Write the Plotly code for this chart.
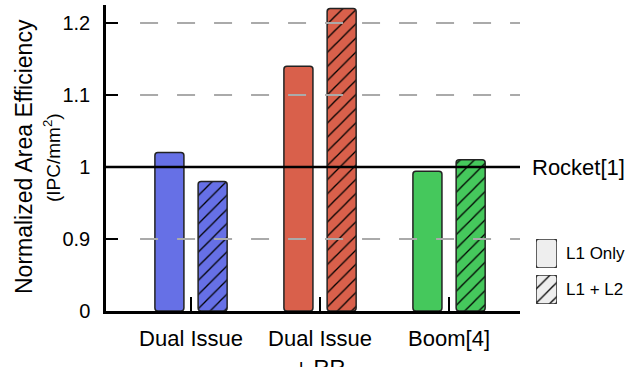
import plotly.graph_objects as go

# ---- data ----
categories = ["Dual Issue", "Dual Issue<br>+ RR", "Boom[4]"]
l1_only = [1.02, 1.14, 0.994]
l1_l2 = [0.98, 1.22, 1.01]
series_names = ["L1 Only", "L1 + L2"]
colors = ["#6670E6", "#D9604B", "#45C85C"]
legend_fill = "#EEEEEE"
tick_vals = [0.8, 0.9, 1.0, 1.1, 1.2]
tick_text = ["0", "0.9", "1", "1.1", "1.2"]
grid_vals = [0.9, 1.1, 1.2]
baseline_value = 1.0
baseline_label = "Rocket[1]"
y_title = "Normalized Area Efficiency"
y_subtitle = "(IPC/mm<sup>2</sup>)"
BREAK = 0.8  # axis break: value 0 drawn at 0.8

FONT = "Liberation Sans, Arial, sans-serif"
xpos = list(range(len(categories)))

fig = go.Figure()


def hatch(shape, bg):
    return dict(shape=shape, fgcolor="#000000", bgcolor=bg, fgopacity=1,
                size=10, solidity=0.13)


for vals, name, pat, off in [(l1_only, series_names[0], "", -0.28),
                             (l1_l2, series_names[1], "/", 0.055)]:
    for xi, v, c in zip(xpos, vals, colors):
        fig.add_trace(go.Bar(
            x=[xi], y=[v - BREAK], base=[BREAK],
            name=name, width=0.225, offset=off,
            marker=dict(color=c, line=dict(color="#222222", width=1.5),
                        pattern=hatch(pat, c)),
            showlegend=False, hoverinfo="skip"))

# legend proxies
for i, (name, pat) in enumerate(zip(series_names, ["", "/"])):
    fig.add_trace(go.Bar(
        x=[0], y=[1], base=[0], width=1, xaxis="x2", yaxis="y%d" % (i + 2),
        marker=dict(color=legend_fill, line=dict(color="#333333", width=1.5),
                    pattern=hatch(pat, legend_fill)),
        showlegend=False, hoverinfo="skip", cliponaxis=False))

W, H = 638, 367
L, B, T = 106, 56, 5
plot_w = W - L
xdom = 414 / plot_w

shapes = []
for g in grid_vals:
    shapes.append(dict(type="line", xref="x", yref="y", x0=-0.395, x1=2.55, y0=g, y1=g,
                       line=dict(color="#AAAAAA", width=2, dash="18px,19px"), layer="above"))
shapes.append(dict(type="line", xref="x", yref="y", x0=-0.659, x1=2.55,
                   y0=baseline_value, y1=baseline_value,
                   line=dict(color="#000000", width=2.5), layer="above"))

annotations = [
    dict(x=(530 - L) / plot_w, y=baseline_value, xref="paper", yref="y", text=baseline_label,
         showarrow=False, xanchor="left", yanchor="middle", font=dict(size=22, color="#000")),
    dict(x=(24 - L) / plot_w, y=(311 - 157) / 306, xref="paper", yref="paper",
         text=y_title, textangle=-90, showarrow=False, xanchor="center", yanchor="middle",
         font=dict(size=23, color="#000")),
    dict(x=(52 - L) / plot_w, y=(311 - 158) / 306, xref="paper", yref="paper",
         text=y_subtitle, textangle=-90, showarrow=False, xanchor="center", yanchor="middle",
         font=dict(size=19, color="#000")),
    dict(x=(564 - L) / plot_w, y=(311 - 253.5) / 306, xref="paper", yref="paper",
         text=series_names[0], showarrow=False, xanchor="left", yanchor="middle",
         font=dict(size=17, color="#000")),
    dict(x=(564 - L) / plot_w, y=(311 - 289.5) / 306, xref="paper", yref="paper",
         text=series_names[1], showarrow=False, xanchor="left", yanchor="middle",
         font=dict(size=17, color="#000")),
]

fig.update_layout(
    width=W, height=H,
    margin=dict(l=L, r=0, t=T, b=B, autoexpand=False),
    paper_bgcolor="white", plot_bgcolor="white",
    font=dict(family=FONT, color="#000000"),
    barcornerradius=3, barmode="overlay",
    xaxis=dict(domain=[0, xdom], range=[-0.659, 2.55], tickvals=xpos, ticktext=categories,
               ticks="inside", ticklen=14, tickwidth=1.5, tickcolor="#000",
               showline=True, linewidth=2.5, linecolor="#000", showgrid=False,
               zeroline=False, tickfont=dict(size=22), ticklabelstandoff=6,
               automargin=False),
    yaxis=dict(range=[BREAK, 1.225], tickvals=tick_vals, ticktext=tick_text,
               ticks="inside", ticklen=12, tickwidth=2, tickcolor="#000",
               showline=True, linewidth=2.5, linecolor="#000", showgrid=False,
               zeroline=False, tickfont=dict(size=20), ticklabelstandoff=9,
               automargin=False),
    xaxis2=dict(domain=[(536 - L) / plot_w, (557 - L) / plot_w], range=[-0.5, 0.5],
                visible=False, anchor="y2", automargin=False),
    yaxis2=dict(domain=[(311 - 268) / 306, (311 - 239) / 306], range=[0, 1], visible=False,
                anchor="x2", automargin=False),
    yaxis3=dict(domain=[(311 - 304) / 306, (311 - 275) / 306], range=[0, 1], visible=False,
                anchor="x2", automargin=False),
    shapes=shapes, annotations=annotations,
)

fig.write_html("out.html", config={"displayModeBar": False},
               post_script="document.body.style.margin='0';document.body.style.overflow='hidden';")
